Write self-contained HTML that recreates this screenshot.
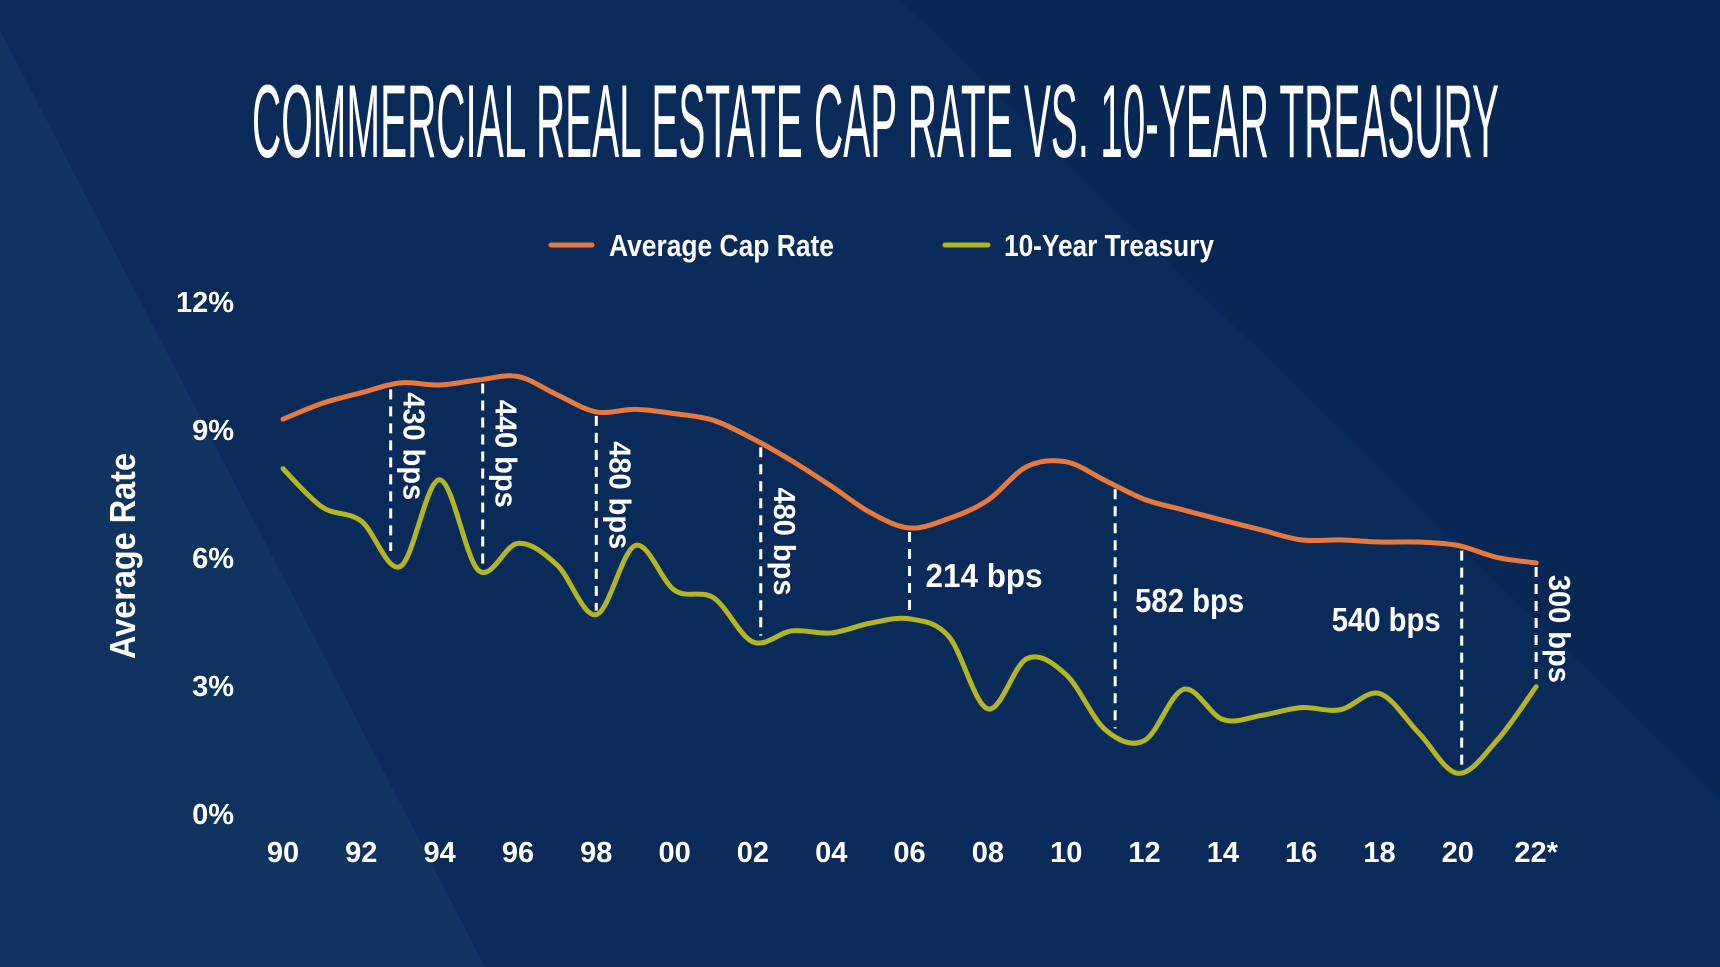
<!DOCTYPE html>
<html><head><meta charset="utf-8"><style>
html,body{margin:0;padding:0;width:1720px;height:967px;overflow:hidden;background:#0b2a58}
svg{display:block}
text{font-family:"Liberation Sans",sans-serif;fill:#fff;font-weight:bold}
</style></head><body>
<svg id="chart" width="1720" height="967" viewBox="0 0 1720 967" xmlns="http://www.w3.org/2000/svg">
<rect x="0" y="0" width="1720" height="967" fill="#0a2a59"/>
<polygon points="0,30 485,967 0,967" fill="#10335f"/>
<polygon points="900,0 1720,0 1720,800" fill="#092755"/>
<text x="252" y="157" font-size="104" textLength="1247" lengthAdjust="spacingAndGlyphs" font-weight="normal" style="font-weight:normal">COMMERCIAL REAL ESTATE CAP RATE VS. 10-YEAR TREASURY</text>
<g>
<line x1="551" y1="245" x2="592" y2="245" stroke="#e8793c" stroke-width="5" stroke-linecap="round"/>
<text x="609" y="256" font-size="31" textLength="225" lengthAdjust="spacingAndGlyphs">Average Cap Rate</text>
<line x1="945" y1="245" x2="988" y2="245" stroke="#b4b522" stroke-width="5" stroke-linecap="round"/>
<text x="1004" y="256" font-size="31" textLength="210" lengthAdjust="spacingAndGlyphs">10-Year Treasury</text>
</g>
<text transform="translate(135,556) rotate(-90)" text-anchor="middle" font-size="36" textLength="206" lengthAdjust="spacingAndGlyphs">Average Rate</text>
<g id="yticks"></g>
<g id="xticks"></g>
<g id="spreads"></g>
<g id="series"></g>
</svg>
<script>
const years = [90,91,92,93,94,95,96,97,98,99,100,101,102,103,104,105,106,107,108,109,110,111,112,113,114,115,116,117,118,119,120,121,122];
const capRate = [9.23,9.6,9.85,10.08,10.03,10.15,10.23,9.8,9.4,9.46,9.36,9.2,8.77,8.25,7.66,7.04,6.68,6.9,7.33,8.12,8.23,7.79,7.35,7.1,6.86,6.63,6.4,6.4,6.35,6.35,6.27,5.99,5.86];
const treasury = [8.07,7.17,6.84,5.78,7.81,5.68,6.32,5.81,4.65,6.27,5.22,5.04,4.01,4.27,4.22,4.45,4.55,4.14,2.44,3.62,3.24,1.95,1.7,2.9,2.19,2.29,2.47,2.42,2.8,1.88,0.93,1.7,2.96];
const yTicks = [0,3,6,9,12];
const xTickYears = [90,92,94,96,98,100,102,104,106,108,110,112,114,116,118,120,122];
const xTickLabels = ["90","92","94","96","98","00","02","04","06","08","10","12","14","16","18","20","22*"];
const spreadYears = [92.75,95.1,98,102.2,106,111.25,120.1,122];
const spreadLabels = ["430 bps","440 bps","480 bps","480 bps","214  bps","582 bps","540 bps","300 bps"];
const spreadRotated = [true,true,true,true,false,false,false,true];

const NS="http://www.w3.org/2000/svg";
const X = y => 283 + (y-90)*39.16;
const Y = v => 813 - v*42.67;
function mk(tag, attrs, parent){const e=document.createElementNS(NS,tag);for(const k in attrs)e.setAttribute(k,attrs[k]);parent.appendChild(e);return e;}
function interp(arr, yr){const i=Math.min(Math.floor(yr-90),arr.length-2);const t=yr-90-i;return arr[i]*(1-t)+arr[i+1]*t;}

const yg=document.getElementById('yticks');
yTicks.forEach(v=>{const t=mk('text',{x:234,y:Y(v)+11,'text-anchor':'end','font-size':29},yg);t.textContent=v+'%';

});
const xg=document.getElementById('xticks');
xTickYears.forEach((yr,i)=>{const t=mk('text',{x:X(yr),y:862,'text-anchor':'middle','font-size':29},xg);t.textContent=xTickLabels[i];

});

const sg=document.getElementById('spreads');
spreadYears.forEach((yr,i)=>{
 const x=X(yr);const y1=Y(interp(capRate,yr));const y2=Y(interp(treasury,yr));
 const l=mk('line',{x1:x,y1:y1+4,x2:x,y2:y2-4,stroke:'#fff','stroke-width':3,'stroke-dasharray':'10 7'},sg);
 
 
 let t;
 if(spreadRotated[i]){
  const cx=x+24, cy=(y1+y2)/2-(i==0?24:i==1?20:i==2?18:i==3?0:-4);
  t=mk('text',{transform:`translate(${cx-11},${cy}) rotate(90)`,'text-anchor':'middle','font-size':31,textLength:108,lengthAdjust:'spacingAndGlyphs'},sg);
 } else {
  const off=[0,0,0,0,16,20,-130,0][i];
  const by=[0,0,0,0,587,612,631,0][i];
  t=mk('text',{x:x+off,y:by,'font-size':33,textLength:(i==4?117:109),lengthAdjust:'spacingAndGlyphs'},sg);
 }
 t.textContent=spreadLabels[i];
 
 
});

function path(vals){
 const p=vals.map((v,i)=>[X(years[i]),Y(v)]);
 let d=`M${p[0][0]},${p[0][1]}`;
 for(let i=0;i<p.length-1;i++){
  const p0=p[Math.max(i-1,0)],p1=p[i],p2=p[i+1],p3=p[Math.min(i+2,p.length-1)];
  const c1=[p1[0]+(p2[0]-p0[0])/6,p1[1]+(p2[1]-p0[1])/6];
  const c2=[p2[0]-(p3[0]-p1[0])/6,p2[1]-(p3[1]-p1[1])/6];
  d+=` C${c1[0]},${c1[1]} ${c2[0]},${c2[1]} ${p2[0]},${p2[1]}`;
 }
 return d;
}
const ser=document.getElementById('series');
const a=mk('path',{d:path(capRate),fill:'none',stroke:'#e8793c','stroke-width':5,'stroke-linecap':'round'},ser);


const b=mk('path',{d:path(treasury),fill:'none',stroke:'#b4b522','stroke-width':5,'stroke-linecap':'round'},ser);


</script>
</body></html>
